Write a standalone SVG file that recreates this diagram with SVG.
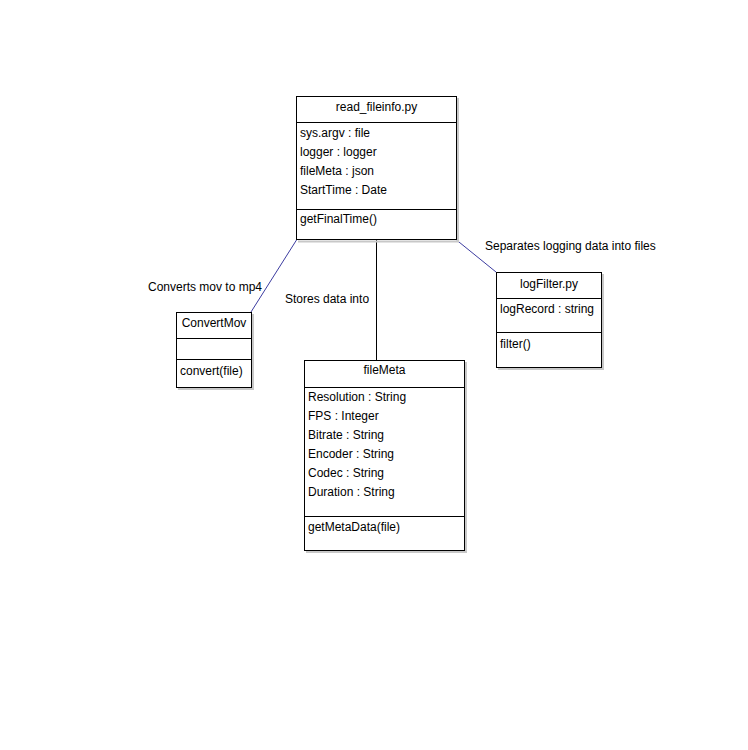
<svg xmlns="http://www.w3.org/2000/svg" width="748" height="750" viewBox="0 0 748 750">
<style>
text{font-family:"Liberation Sans",Arial,sans-serif;font-size:12px;fill:#000}
.box{fill:#fff;stroke:#000;stroke-width:1}
.shadow{fill:none;stroke:#c8c8c8;stroke-width:2}
.div{stroke:#000;stroke-width:1}
.mid{text-anchor:middle}
.assoc{stroke:#3c3ca0;stroke-width:1;fill:none}
.dep{stroke:#000;stroke-width:1;fill:none}
</style>
<rect width="748" height="750" fill="#fff"/>
<g id="connectors">
<line class="assoc" x1="296.5" y1="240" x2="251" y2="312"/>
<line class="assoc" x1="456.5" y1="240" x2="496" y2="272"/>
<line class="dep" x1="376.5" y1="240" x2="376.5" y2="360"/>
<text x="148" y="291">Converts mov to mp4</text>
<text x="285" y="303">Stores data into</text>
<text x="485" y="250">Separates logging data into files</text>
</g>
<g id="read_fileinfo">
<polyline class="shadow" points="458,98 458,241.5 298,241.5"/>
<rect class="box" x="296.5" y="96.5" width="160" height="143"/>
<line class="div" x1="296.5" y1="122.5" x2="456.5" y2="122.5"/>
<line class="div" x1="296.5" y1="209.5" x2="456.5" y2="209.5"/>
<text class="mid" x="376.5" y="111">read_fileinfo.py</text>
<text x="300" y="137">sys.argv : file</text>
<text x="300" y="156">logger : logger</text>
<text x="300" y="175">fileMeta : json</text>
<text x="300" y="194">StartTime : Date</text>
<text x="300" y="223">getFinalTime()</text>
</g>
<g id="ConvertMov">
<polyline class="shadow" points="253,314 253,389 178,389"/>
<rect class="box" x="176.5" y="312.5" width="75" height="75"/>
<line class="div" x1="176.5" y1="338.5" x2="251.5" y2="338.5"/>
<line class="div" x1="176.5" y1="359.5" x2="251.5" y2="359.5"/>
<text class="mid" x="214" y="326.5">ConvertMov</text>
<text x="180" y="375">convert(file)</text>
</g>
<g id="logFilter">
<polyline class="shadow" points="603,274 603,369 498,369"/>
<rect class="box" x="496.5" y="272.5" width="105" height="95"/>
<line class="div" x1="496.5" y1="298.5" x2="601.5" y2="298.5"/>
<line class="div" x1="496.5" y1="332.5" x2="601.5" y2="332.5"/>
<text class="mid" x="549" y="287.5">logFilter.py</text>
<text x="500" y="313">logRecord : string</text>
<text x="500" y="347.5">filter()</text>
</g>
<g id="fileMeta">
<polyline class="shadow" points="466,362 466,552 306,552"/>
<rect class="box" x="304.5" y="360.5" width="160" height="190"/>
<line class="div" x1="304.5" y1="387.5" x2="464.5" y2="387.5"/>
<line class="div" x1="304.5" y1="516.5" x2="464.5" y2="516.5"/>
<text class="mid" x="384.5" y="374">fileMeta</text>
<text x="308" y="401">Resolution : String</text>
<text x="308" y="420">FPS : Integer</text>
<text x="308" y="439">Bitrate : String</text>
<text x="308" y="458">Encoder : String</text>
<text x="308" y="477">Codec : String</text>
<text x="308" y="496">Duration : String</text>
<text x="308" y="531">getMetaData(file)</text>
</g>
</svg>
